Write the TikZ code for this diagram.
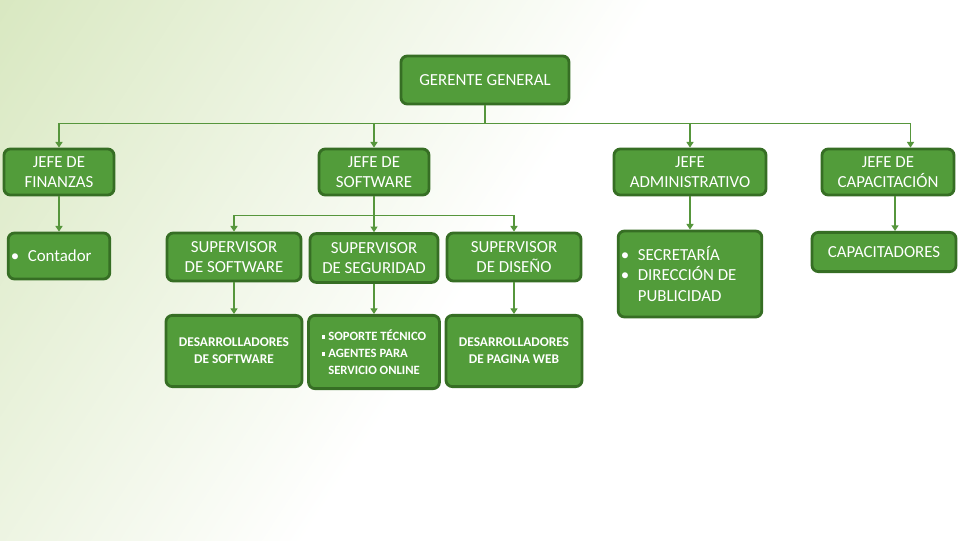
\documentclass[tikz,border=0pt]{standalone}
\usepackage{fontspec}
\setmainfont{Carlito}
\usetikzlibrary{positioning,arrows.meta,calc}
\definecolor{boxc}{RGB}{82,156,58}
\definecolor{edgec}{RGB}{54,110,36}
\definecolor{linkc}{RGB}{86,150,60}
\definecolor{bgc}{RGB}{200,222,166}
\pgfdeclareverticalshading{wash}{100bp}{color(0bp)=(white); color(50bp)=(white); color(100bp)=(bgc)}
\newcommand{\bul}{\textbullet\hspace{6pt}}
\newcommand{\nobul}{\hphantom{\bul}}
\newcommand{\sqbul}{\raisebox{0.25ex}{\rule{0.6ex}{0.6ex}}\hspace{2pt}}
\newcommand{\nosqbul}{\hphantom{\sqbul}}
\tikzset{
  post/.style  = {draw=edgec, line width=2pt, fill=boxc, rounded corners=4.5pt,
                  text=white, align=center, inner sep=2pt,
                  font=\fontsize{12}{14.6}\selectfont},
  staff/.style = {post, font=\fontsize{9.5}{12}\selectfont\bfseries},
  flow/.style  = {-{Triangle[length=4pt,width=5pt]}, draw=linkc, line width=0.9pt},
}
\begin{document}
\begin{tikzpicture}[x=0.025cm, y=-0.025cm]

% background
\useasboundingbox (0,0) rectangle (960,540);
\shade[shading=wash, shading angle=57] (0,0) rectangle (960,540);

% top
\node[post, minimum width=4.2cm, minimum height=1.2cm] (gg) at (485,80) {GERENTE GENERAL};

% jefes
\node[post, minimum width=2.75cm, minimum height=1.15cm] (jf) at (59,172) {JEFE DE\\FINANZAS};
\node[post, minimum width=2.75cm, minimum height=1.15cm] (js) at (374,172) {JEFE DE\\SOFTWARE};
\node[post, minimum width=3.8cm, minimum height=1.15cm] (ja) at (690,172) {JEFE\\ADMINISTRATIVO};
\node[post, minimum width=3.3cm, minimum height=1.15cm] (jc) at (888,172) {JEFE DE\\CAPACITACIÓN};

% second row
\node[post, align=flush left, text width=2.4cm, minimum height=1.15cm] (cont) at (59,256) {\bul Contador};
\node[post, minimum width=3.35cm, minimum height=1.2cm] (ss) at (234,257) {SUPERVISOR\\DE SOFTWARE};
\node[post, minimum width=3.2cm, minimum height=1.22cm] (sg) at (374,258) {SUPERVISOR\\DE SEGURIDAD};
\node[post, minimum width=3.35cm, minimum height=1.2cm] (sd) at (514,257) {SUPERVISOR\\DE DISEÑO};
\node[post, align=flush left, text width=3.45cm, minimum height=2.15cm] (sec) at (690,274)
  {\bul SECRETARÍA\\\bul DIRECCIÓN DE\\\nobul PUBLICIDAD};
\node[post, minimum width=3.6cm, minimum height=0.98cm] (cap) at (884,252) {CAPACITADORES};

% third row
\node[staff, minimum width=3.4cm, minimum height=1.78cm] (ds) at (234,351) {DESARROLLADORES\\DE SOFTWARE};
\node[staff, align=left, minimum width=3.27cm, minimum height=1.83cm, font=\fontsize{9}{12}\selectfont\bfseries] (sp) at (374,352)
  {\sqbul SOPORTE TÉCNICO\\\sqbul AGENTES PARA\\\nosqbul SERVICIO ONLINE};
\node[staff, minimum width=3.4cm, minimum height=1.78cm] (dw) at (514,351) {DESARROLLADORES\\DE PAGINA WEB};

% connectors
\draw[flow] (gg.south) -- ++(0,18) -| (jf.north);
\draw[flow] (gg.south) -- ++(0,18) -| (js.north);
\draw[flow] (gg.south) -- ++(0,18) -| (ja.north);
\draw[flow] (gg.south) -- ++(0,18) -| ([xshift=16pt]jc.north);

\draw[flow] (jf) -- (cont);
\draw[flow] (js.south) -- ++(0,19) -| (ss.north);
\draw[flow] (js) -- (sg);
\draw[flow] (js.south) -- ++(0,19) -| (sd.north);
\draw[flow] (ja) -- (sec);
\draw[flow] ([xshift=5pt]jc.south) -- ([xshift=5pt]jc.south |- cap.north);

\draw[flow] (ss) -- (ds);
\draw[flow] (sg) -- (sp);
\draw[flow] (sd) -- (dw);

\end{tikzpicture}
\end{document}
